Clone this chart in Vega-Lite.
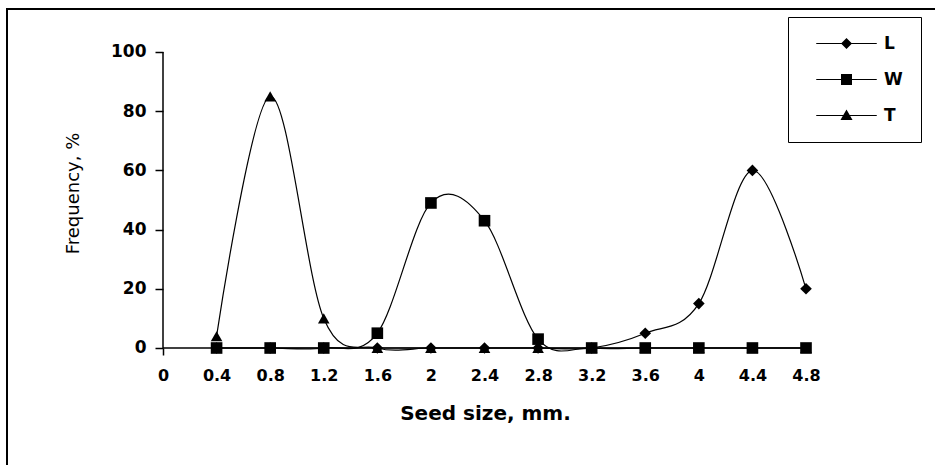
{
  "$schema": "https://vega.github.io/schema/vega-lite/v6.json",
  "width": 950,
  "height": 490,
  "autosize": {"type": "none"},
  "padding": {"left": 7, "top": 9, "right": -22, "bottom": -34},
  "background": "white",
  "config": {
    "view": {"stroke": "black", "strokeWidth": 2},
    "font": "DejaVu Sans"
  },
  "data": {
    "values": [
      {"size": 0.4, "series": "L", "freq": 0},
      {"size": 0.8, "series": "L", "freq": 0},
      {"size": 1.2, "series": "L", "freq": 0},
      {"size": 1.6, "series": "L", "freq": 0},
      {"size": 2.0, "series": "L", "freq": 0},
      {"size": 2.4, "series": "L", "freq": 0},
      {"size": 2.8, "series": "L", "freq": 0},
      {"size": 3.2, "series": "L", "freq": 0},
      {"size": 3.6, "series": "L", "freq": 5},
      {"size": 4.0, "series": "L", "freq": 15},
      {"size": 4.4, "series": "L", "freq": 60},
      {"size": 4.8, "series": "L", "freq": 20},
      {"size": 0.4, "series": "T", "freq": 4},
      {"size": 0.8, "series": "T", "freq": 85},
      {"size": 1.2, "series": "T", "freq": 10},
      {"size": 1.6, "series": "T", "freq": 0},
      {"size": 2.0, "series": "T", "freq": 0},
      {"size": 2.4, "series": "T", "freq": 0},
      {"size": 2.8, "series": "T", "freq": 0},
      {"size": 3.2, "series": "T", "freq": 0},
      {"size": 3.6, "series": "T", "freq": 0},
      {"size": 4.0, "series": "T", "freq": 0},
      {"size": 4.4, "series": "T", "freq": 0},
      {"size": 4.8, "series": "T", "freq": 0},
      {"size": 0.4, "series": "W", "freq": 0},
      {"size": 0.8, "series": "W", "freq": 0},
      {"size": 1.2, "series": "W", "freq": 0},
      {"size": 1.6, "series": "W", "freq": 5},
      {"size": 2.0, "series": "W", "freq": 49},
      {"size": 2.4, "series": "W", "freq": 43},
      {"size": 2.8, "series": "W", "freq": 3},
      {"size": 3.2, "series": "W", "freq": 0},
      {"size": 3.6, "series": "W", "freq": 0},
      {"size": 4.0, "series": "W", "freq": 0},
      {"size": 4.4, "series": "W", "freq": 0},
      {"size": 4.8, "series": "W", "freq": 0}
    ]
  },
  "layer": [
    {
      "data": {"values": [{"axis": "y"}]},
      "mark": {"type": "rule", "stroke": "black", "strokeWidth": 1.5},
      "encoding": {
        "x": {"datum": 0, "type": "quantitative"},
        "y": {"datum": 0, "type": "quantitative"},
        "y2": {"datum": 100}
      }
    },
    {
      "data": {"values": [{"axis": "x"}]},
      "mark": {"type": "rule", "stroke": "black", "strokeWidth": 1.5},
      "encoding": {
        "y": {"datum": 0, "type": "quantitative"},
        "x": {"datum": 0, "type": "quantitative"},
        "x2": {"datum": 4.8}
      }
    },
    {
      "mark": {"type": "line", "interpolate": "cardinal", "stroke": "black", "strokeWidth": 1.2},
      "encoding": {
        "x": {"field": "size", "type": "quantitative"},
        "y": {"field": "freq", "type": "quantitative"},
        "detail": {"field": "series", "type": "nominal"}
      }
    },
    {
      "mark": {"type": "point", "filled": true, "color": "black", "opacity": 1, "size": 135},
      "encoding": {
        "x": {
          "field": "size", "type": "quantitative",
          "scale": {"domain": [-1.16453, 5.92713], "nice": false, "zero": false},
          "axis": {
            "offset": -151, "domain": false, "grid": false,
            "values": [0, 0.4, 0.8, 1.2, 1.6, 2, 2.4, 2.8, 3.2, 3.6, 4, 4.4, 4.8],
            "format": "~g",
            "tickSize": 7, "tickWidth": 1.5,
            "tickColor": {"condition": {"test": "datum.value === 0", "value": "black"}, "value": "transparent"},
            "labelFont": "DejaVu Sans", "labelFontWeight": "bold", "labelFontSize": 16, "labelColor": "black",
            "labelPadding": 12, "labelFlush": false, "labelOverlap": false,
            "title": "Seed size, mm.", "titleFont": "DejaVu Sans", "titleFontSize": 20, "titleFontWeight": "bold",
            "titleColor": "black", "titleX": 478, "titleY": 55
          }
        },
        "y": {
          "field": "freq", "type": "quantitative",
          "scale": {"domain": [-51.014, 114.527], "nice": false, "zero": false},
          "axis": {
            "offset": -156, "domain": false, "grid": false,
            "values": [0, 20, 40, 60, 80, 100],
            "format": "d",
            "tickSize": 8, "tickWidth": 1.5, "tickColor": "black",
            "labelFont": "DejaVu Sans", "labelFontWeight": "bold", "labelFontSize": 17, "labelColor": "black",
            "labelPadding": 9, "labelFlush": false,
            "title": "Frequency, %", "titleFont": "DejaVu Sans", "titleFontSize": 18, "titleFontWeight": "normal",
            "titleColor": "black", "titleX": -81, "titleY": 184
          }
        },
        "shape": {
          "field": "series", "type": "nominal",
          "scale": {"domain": ["L", "W", "T"], "range": ["diamond", "square", "triangle-up"]},
          "legend": null
        }
      }
    },
    {
      "mark": {"type": "point", "filled": true, "color": "black", "opacity": 0},
      "encoding": {
        "x": {"field": "size", "type": "quantitative"},
        "y": {"field": "freq", "type": "quantitative"},
        "shape": {
          "field": "series", "type": "nominal",
          "scale": {
            "domain": ["L", "W", "T"],
            "range": [
              "M-5.5,-0.1H5.5V0.1H-5.5ZM0,-1L1,0L0,1L-1,0Z",
              "M-5.5,-0.1H5.5V0.1H-5.5ZM-1,-1H1V1H-1Z",
              "M-5.5,-0.1H5.5V0.1H-5.5ZM0,-1.1L1.1,0.8L-1.1,0.8Z"
            ]
          },
          "legend": {
            "orient": "none", "legendX": 781, "legendY": 8, "title": null,
            "strokeColor": "black", "fillColor": "white", "padding": 18,
            "symbolSize": 121, "symbolFillColor": "black", "symbolStrokeColor": "black",
            "symbolStrokeWidth": 1, "symbolOpacity": 1, "symbolOffset": 32,
            "labelFont": "DejaVu Sans", "labelFontWeight": "bold", "labelFontSize": 17, "labelColor": "black",
            "labelOffset": 29, "rowPadding": 18,
            "labelExpr": "datum.label + '\u00a0\u00a0\u00a0\u00a0'",
            "encode": {
              "legend": {"update": {"strokeWidth": {"value": 2}}},
              "symbols": {"update": {"stroke": {"value": "black"}, "strokeWidth": {"value": 1}, "strokeOpacity": {"value": 1}, "opacity": {"value": 1}, "fill": {"value": "black"}, "fillOpacity": {"value": 1}}}
            }
          }
        }
      }
    }
  ],
  "resolve": {"scale": {"shape": "independent"}}
}
